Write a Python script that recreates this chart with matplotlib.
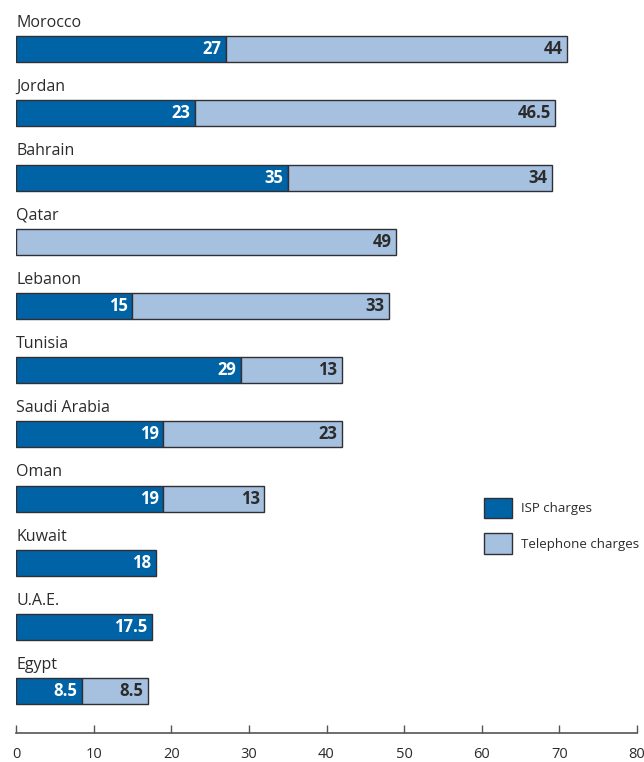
import matplotlib
matplotlib.use("Agg")
import matplotlib.pyplot as plt
from matplotlib.patches import Patch

countries = ["Morocco", "Jordan", "Bahrain", "Qatar", "Lebanon", "Tunisia",
             "Saudi Arabia", "Oman", "Kuwait", "U.A.E.", "Egypt"]
isp_charges = [27, 23, 35, 0, 15, 29, 19, 19, 18, 17.5, 8.5]
telephone_charges = [44, 46.5, 34, 49, 33, 13, 23, 13, 0, 0, 8.5]
x_ticks = [0, 10, 20, 30, 40, 50, 60, 70, 80]

ISP_COLOR = "#0063a6"
TEL_COLOR = "#a6c0df"
EDGE = "#2f2f35"
TEXT = "#2b2b2b"

plt.rcParams["font.family"] = ["Open Sans", "DejaVu Sans"]

fig = plt.figure(figsize=(6.44, 7.62), dpi=100)
ax = fig.add_axes([16 / 644, 1 - 733 / 762, 621 / 644, (733 - 10) / 762])

bar_h = 0.405

def fmt(v):
    return f"{v:g}"

for i, (name, a, b) in enumerate(zip(countries, isp_charges, telephone_charges)):
    if a > 0:
        ax.barh(i, a, height=bar_h, color=ISP_COLOR, edgecolor=EDGE, linewidth=1.0)
        ax.text(a - 0.6, i, fmt(a), ha="right", va="center", color="white",
                fontsize=12, fontweight="bold")
    if b > 0:
        ax.barh(i, b, left=a, height=bar_h, color=TEL_COLOR, edgecolor=EDGE, linewidth=1.0)
        ax.text(a + b - 0.6, i, fmt(b), ha="right", va="center", color=TEXT,
                fontsize=12, fontweight="bold")
    ax.text(0, i - bar_h / 2 - 0.08, name, ha="left", va="bottom", color=TEXT,
            fontsize=11.5)

ax.set_xlim(0, 80)
ax.set_ylim(10.65, -0.61)
ax.set_xticks(x_ticks)
ax.set_yticks([])
for side in ("top", "right", "left"):
    ax.spines[side].set_visible(False)
ax.spines["bottom"].set_color("#555555")
ax.spines["bottom"].set_linewidth(1.2)
ax.tick_params(axis="x", direction="in", length=6, width=1.0, color="#555555",
               labelsize=10.5, labelcolor=TEXT, pad=10)

handles = [Patch(facecolor=ISP_COLOR, edgecolor=EDGE, label="ISP charges"),
           Patch(facecolor=TEL_COLOR, edgecolor=EDGE, label="Telephone charges")]
fig.legend(handles=handles, loc="upper left", bbox_to_anchor=(472 / 644, 1 - 486 / 762),
           frameon=False, fontsize=9.5, handlelength=2.1, handleheight=2.0,
           labelspacing=1.15, handletextpad=0.7, labelcolor=TEXT)

fig.savefig("out.png", dpi=100)
